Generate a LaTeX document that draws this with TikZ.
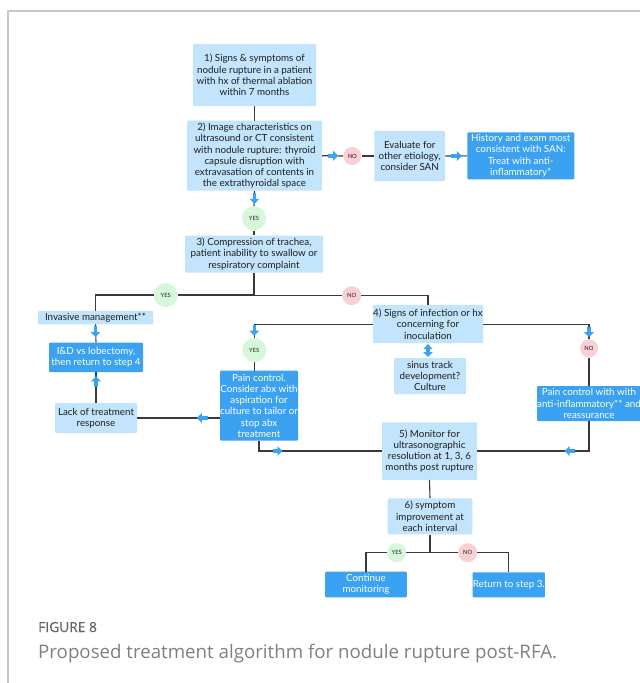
\documentclass[tikz,border=0pt]{standalone}
\usepackage{fontspec}
\setmainfont{Lato}
\newfontfamily\capfont{Open Sans}
\newfontfamily\capfontsb{Open Sans}[FakeBold=0.6]
\usetikzlibrary{arrows.meta}
\definecolor{lblue}{HTML}{C2E4FC}
\definecolor{dblue}{HTML}{3AA2F0}
\definecolor{ablue}{HTML}{3AA2F0}
\definecolor{ygreen}{HTML}{D6F7DA}
\definecolor{npink}{HTML}{FBD0D4}
\definecolor{lncol}{HTML}{3A3A3A}
\definecolor{txtd}{HTML}{1E1E1E}
\definecolor{framegrey}{HTML}{C8C8C8}
\tikzset{
  boxbase/.style={align=center, inner sep=0pt, rounded corners=1pt, font=\fontsize{9.8}{11.3}\selectfont},
  lbox/.style={boxbase, fill=lblue, text=txtd},
  dbox/.style={boxbase, fill=dblue, text=white},
  yesc/.style={circle, fill=ygreen, inner sep=0pt, text=txtd, font=\fontsize{5.8}{6}\selectfont},
  noc/.style={circle, fill=npink, inner sep=0pt, text=txtd, font=\fontsize{5.8}{6}\selectfont},
  conn/.style={draw=lncol, line width=1.1pt},
  barrow/.style={draw=ablue, line width=3.6pt, -{Triangle[length=5pt,width=9.5pt]}},
  dbarrow/.style={draw=ablue, line width=3.6pt, {Triangle[length=5pt,width=9.5pt]}-{Triangle[length=5pt,width=9.5pt]}},
}
\begin{document}
\begin{tikzpicture}[x=1pt,y=-1pt]
\useasboundingbox (0,0) rectangle (640,683);
\fill[white] (0,0) rectangle (640,683);
\draw[framegrey, line width=1.2pt] (8,683) -- (8,11) -- (640,11);

% nodes
\node[lbox, minimum width=123, minimum height=62] (s1) at (254.5,75)
  {1) Signs \& symptoms of\\nodule rupture in a patient\\with hx of thermal ablation\\within 7 months};
\node[lbox, minimum width=135, minimum height=70] (s2) at (254.5,155.7)
  {2) Image characteristics on\\ultrasound or CT consistent\\with nodule rupture: thyroid\\capsule disruption with\\extravasation of contents in\\the extrathyroidal space};
\node[noc, minimum size=18] (n1) at (352.3,156) {NO};
\node[lbox, minimum width=70.7, minimum height=50.3] (ev) at (409.7,156)
  {Evaluate for\\other etiology,\\consider SAN};
\node[dbox, minimum width=107, minimum height=47] (hist) at (520.8,155.8)
  {History and exam most\\consistent with SAN:\\Treat with anti-\\inflammatory*};
\node[yesc, minimum size=24] (y1) at (254,218.3) {YES};
\node[lbox, minimum width=138, minimum height=37] (s3) at (254,254)
  {3) Compression of trachea,\\patient inability to swallow or\\respiratory complaint};
\node[yesc, minimum size=24] (y2) at (165.7,295) {YES};
\node[noc, minimum size=19] (n2) at (351.7,295.7) {NO};
\node[lbox, minimum width=115, minimum height=13.5] (inv) at (95.5,317.5)
  {Invasive management**};
\node[dbox, minimum width=94, minimum height=29.5] (id) at (96,357.3)
  {I\&D vs lobectomy,\\then return to step 4};
\node[lbox, minimum width=82, minimum height=30] (lack) at (96,418)
  {Lack of treatment\\response};
\node[lbox, minimum width=110, minimum height=38] (s4) at (428,324.2)
  {4) Signs of infection or hx\\concerning for\\inoculation};
\node[yesc, minimum size=24] (y3) at (254.3,350) {YES};
\node[dbox, minimum width=78, minimum height=70] (p1) at (259,405.7)
  {Pain control.\\Consider abx with\\aspiration for\\culture to tailor or\\stop abx\\treatment};
\node[lbox, minimum width=72, minimum height=36] (sin) at (430,376)
  {sinus track\\development?\\Culture};
\node[noc, minimum size=18] (n3) at (589,348.3) {NO};
\node[dbox, minimum width=104, minimum height=35] (p2) at (589,403.5)
  {Pain control with with\\anti-inflammatory** and\\reassurance};
\node[lbox, minimum width=95, minimum height=57.5] (s5) at (429.5,451)
  {5) Monitor for\\ultrasonographic\\resolution at 1, 3, 6\\months post rupture};
\node[lbox, minimum width=84.6, minimum height=36] (s6) at (430,516.3)
  {6) symptom\\improvement at\\each interval};
\node[yesc, minimum size=19] (y4) at (396.7,552.7) {YES};
\node[noc, minimum size=19] (n4) at (467.7,552.7) {NO};
\node[dbox, minimum width=81.7, minimum height=25.6] (cont) at (366,584.5)
  {Continue\\monitoring};
\node[dbox, minimum width=72.3, minimum height=25] (ret) at (508.8,584.8)
  {Return to step 3.};

% connectors
\draw[conn] (s1.south) -- (s2.north);
\draw[conn] (s2.east) -- (n1.west);
\draw[conn] (n1.east) -- (ev.west);
\draw[conn] (ev.east) -- (hist.west);
\draw[conn] (s2.south) -- (y1.north);
\draw[conn] (y1.south) -- (s3.north);
\draw[conn] (s3.south) |- (y2.east);
\draw[conn] (y2.west) -| (inv.north);
\draw[conn] (s3.south) |- (n2.west);
\draw[conn] (n2.east) -| (s4.north);
\draw[conn] (inv.south) -- (id.north);
\draw[conn] (lack.north) -- (id.south);
\draw[conn] (lack.east) -- (lack.east -| p1.west);
\draw[conn] (s4.west) -| (y3.north);
\draw[conn] (y3.south) -- (y3.south |- p1.north);
\draw[conn] (s4.east) -| (n3.north);
\draw[conn] (n3.south) -- (p2.north);
\draw[conn] (p1.south) |- (s5.west);
\draw[conn] (p2.south) |- (s5.east);
\draw[conn] (s5.south) -- (s6.north);
\draw[conn] (s6.south) |- (y4.east);
\draw[conn] (y4.west) -| (cont.north);
\draw[conn] (s6.south) |- (n4.west);
\draw[conn] (n4.east) -| (ret.north);

% blue arrows
\draw[barrow] ([xshift=5.5pt]s2.east) -- ++(10.5,0);
\draw[barrow] ([xshift=6.2pt]ev.east) -- ++(10.5,0);
\draw[barrow] ([yshift=-2.4pt]s2.south) -- ++(0,10.5);
\draw[barrow] ([yshift=-2pt]inv.south) -- ++(0,10.5);
\draw[barrow] ([yshift=-14.5pt]id.south) -- ++(0,-10.5);
\draw[barrow] ([xshift=-12pt]lack.east -| p1.west) -- ++(-11,0);
\draw[barrow] ([yshift=-1pt]s4.west -| y3.north) -- ++(0,10.5);
\draw[barrow] ([yshift=-2.4pt]s4.east -| n3.north) -- ++(0,10.5);
\draw[barrow] ([xshift=-14pt]p2.south |- s5.east) -- ++(-10.5,0);
\draw[barrow] ([xshift=13.5pt]p1.south |- s5.west) -- ++(10,0);
\draw[dbarrow] ([yshift=-0.8pt]s4.south) -- ([yshift=0.8pt]s4.south |- sin.north);

% caption
\node[anchor=base west, inner sep=0pt, text=black!60, font=\capfontsb\fontsize{13.8}{15}\selectfont] (figlabel) at (38,632) {FIGURE 8};
\node[anchor=base west, inner sep=0pt, text=black!50, font=\capfont\fontsize{18.7}{21}\selectfont] (figcap) at (38,658) {Proposed treatment algorithm for nodule rupture post-RFA.};
\end{tikzpicture}
\end{document}
